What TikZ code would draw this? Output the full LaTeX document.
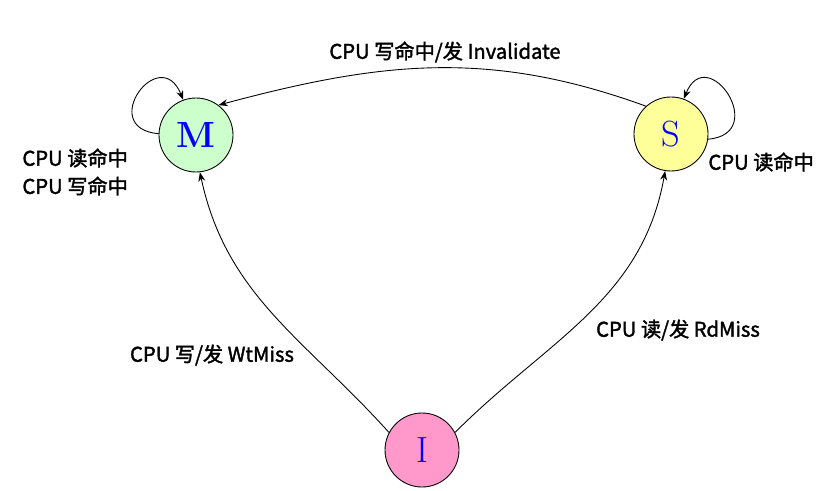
\documentclass[tikz,border=0pt]{standalone}
\usepackage{fontspec}
\usepackage{tikz}
\usetikzlibrary{arrows.meta,positioning}
\newfontfamily\cjk[FakeBold=1.8]{Noto Sans CJK SC}
\definecolor{mgreen}{HTML}{CCFFCC}
\definecolor{syellow}{HTML}{FFFF99}
\definecolor{ipink}{HTML}{FF99CC}

\begin{document}
\begin{tikzpicture}[>=Stealth, line width=0.5pt,
    state/.style={circle, draw, minimum size=1.48cm, inner sep=0pt,
                  text=blue, font=\huge},
    lbl/.style={font=\cjk\fontsize{11.5}{16}\selectfont, inner sep=0pt}]
    \useasboundingbox (0,0) rectangle (16.6,-9.82);

    % states
    \node[state, fill=mgreen] (M) at (3.92,-2.70) {\textbf{M}};
    \node[state, fill=syellow] (S) at (13.42,-2.68) {S};
    \node[state, fill=ipink] (I) at (8.44,-9.0) {I};

    % transitions
    \draw[->] (S.132) to[out=160, in=15] (M.53);
    \draw[->] (I.152) to[out=132, in=-78] (M.-84);
    \draw[->] (I.28) to[out=45, in=-100] (S.-99);

    % self loops
    \draw[->] (M.178) to[out=175, in=112, distance=1.25cm] (M.110);
    \draw[->] (S.-8) to[out=5, in=68, distance=1.25cm] (S.70);

    % labels
    \node[lbl] (lbInv) at (8.9,-1.04) {CPU 写命中/发 Invalidate};
    \node[lbl, anchor=west, align=left] (lbM) at (0.44,-3.44) {CPU 读命中\\CPU 写命中};
    \node[lbl, anchor=west] (lbS) at (14.16,-3.24) {CPU 读命中};
    \node[lbl] (lbWt) at (4.24,-7.1) {CPU 写/发 WtMiss};
    \node[lbl] (lbRd) at (13.56,-6.6) {CPU 读/发 RdMiss};
\end{tikzpicture}
\end{document}
